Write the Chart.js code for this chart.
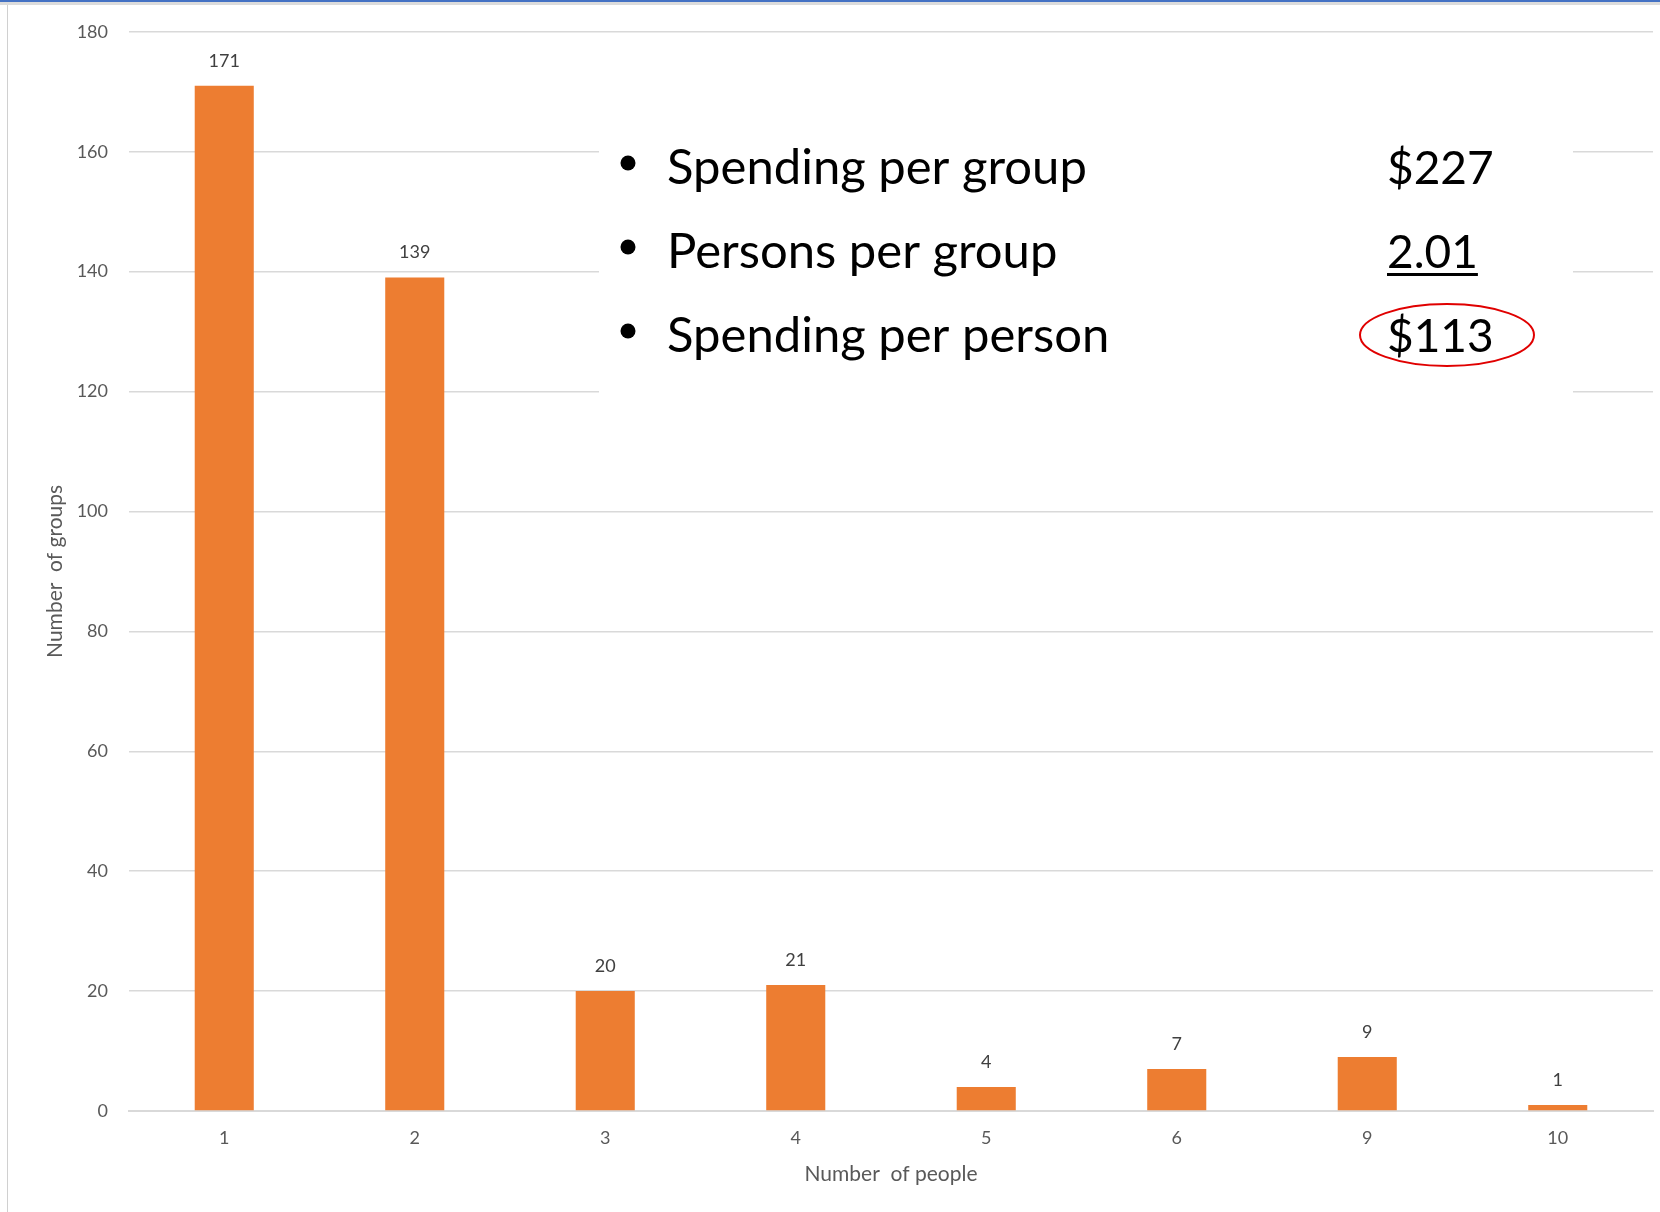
<!DOCTYPE html>
<html>
<head>
<meta charset="utf-8">
<script src="https://cdn.jsdelivr.net/npm/chart.js@4"></script>
<style>
  html, body { margin: 0; padding: 0; background: #fff; }
  #wrap { position: relative; width: 1660px; height: 1212px; overflow: hidden; }
  #topRule { position: absolute; left: 0; top: 0; width: 1660px; height: 2px; background: #4472c4; }
  #topShade { position: absolute; left: 0; top: 2px; width: 1660px; height: 3px; background: #dcdcdc; }
  #leftRule { position: absolute; left: 7px; top: 5px; width: 1px; height: 1207px; background: #d0d0d0; }
  canvas { position: absolute; left: 0; top: 0; }
</style>
</head>
<body>
<div id="wrap">
  <canvas id="groupsChart" width="1660" height="1212"></canvas>
  <div id="topRule"></div>
  <div id="topShade"></div>
  <div id="leftRule"></div>
</div>
<script>
const groupSizes = ['1', '2', '3', '4', '5', '6', '9', '10'];
const groupCounts = [171, 139, 20, 21, 4, 7, 9, 1];
const yTicks = [0, 20, 40, 60, 80, 100, 120, 140, 160, 180];

const summaryLabels = ['Spending per group', 'Persons per group', 'Spending per person'];
const summaryValues = ['$227', '2.01', '$113'];

const FONT = 'Lato, "Open Sans", sans-serif';
const BAR_COLOR = '#ed7d31';
const GRID_COLOR = '#d9d9d9';
const TEXT_COLOR = '#595959';

// value above each bar, taken from the bar element itself
const barValueLabels = {
  id: 'barValueLabels',
  afterDatasetsDraw(chart) {
    const { ctx } = chart;
    const meta = chart.getDatasetMeta(0);
    const values = chart.data.datasets[0].data;
    ctx.save();
    ctx.font = '18px ' + FONT;
    ctx.fillStyle = '#404040';
    ctx.textAlign = 'center';
    ctx.textBaseline = 'middle';
    meta.data.forEach((bar, i) => {
      ctx.fillText(String(values[i]), bar.x, bar.y - 25);
    });
    ctx.restore();
  }
};

// white text box with the summary figures
const summaryBox = {
  id: 'summaryBox',
  afterDraw(chart) {
    const { ctx } = chart;
    ctx.save();
    ctx.fillStyle = '#fff';
    ctx.fillRect(599, 100, 974, 300);

    ctx.fillStyle = '#000';
    ctx.textBaseline = 'alphabetic';
    ctx.textAlign = 'left';
    summaryLabels.forEach((label, i) => {
      const base = 184 + i * 84;
      ctx.beginPath();
      ctx.arc(628, base - 21, 7.5, 0, Math.PI * 2);
      ctx.fill();
      ctx.font = '49px ' + FONT;
      ctx.fillText(label, 667, base);
      ctx.font = '46px ' + FONT;
      ctx.fillText(summaryValues[i], 1387, base);
    });

    // underline under persons per group
    ctx.font = '46px ' + FONT;
    const w = ctx.measureText(summaryValues[1]).width;
    ctx.fillRect(1387, 273, w, 3);

    // red ring round spending per person
    ctx.strokeStyle = '#e00000';
    ctx.lineWidth = 2;
    ctx.beginPath();
    ctx.ellipse(1447, 335, 87, 31, 0, 0, Math.PI * 2);
    ctx.stroke();
    ctx.restore();
  }
};

new Chart(document.getElementById('groupsChart').getContext('2d'), {
  type: 'bar',
  data: {
    labels: groupSizes,
    datasets: [{
      label: 'Number of groups',
      data: groupCounts,
      backgroundColor: BAR_COLOR,
      borderWidth: 0,
      categoryPercentage: 0.31,
      barPercentage: 1
    }]
  },
  options: {
    responsive: false,
    animation: false,
    devicePixelRatio: 1,
    layout: { padding: { top: 31, right: 7, left: 0, bottom: 0 } },
    plugins: { legend: { display: false }, tooltip: { enabled: false } },
    scales: {
      x: {
        grid: { display: false, drawTicks: false },
        border: { display: true, color: GRID_COLOR, width: 2 },
        ticks: { color: TEXT_COLOR, font: { family: FONT, size: 18 }, padding: 16 },
        title: {
          display: true,
          text: 'Number  of people',
          color: TEXT_COLOR,
          font: { family: FONT, size: 21 },
          padding: { top: 0, bottom: 25 }
        },
        afterFit(scale) { scale.height = 101; }
      },
      y: {
        min: 0,
        max: 180,
        afterBuildTicks(scale) { scale.ticks = yTicks.map(v => ({ value: v })); },
        grid: { color: GRID_COLOR, lineWidth: 1.5, drawTicks: false },
        border: { display: false },
        ticks: { color: TEXT_COLOR, font: { family: FONT, size: 18 }, padding: 21 },
        title: {
          display: true,
          text: 'Number  of groups',
          color: TEXT_COLOR,
          font: { family: FONT, size: 21 },
          padding: { top: 43, bottom: 0 }
        },
        afterFit(scale) { scale.width = 129; }
      }
    }
  },
  plugins: [barValueLabels, summaryBox]
});
</script>
</body>
</html>
